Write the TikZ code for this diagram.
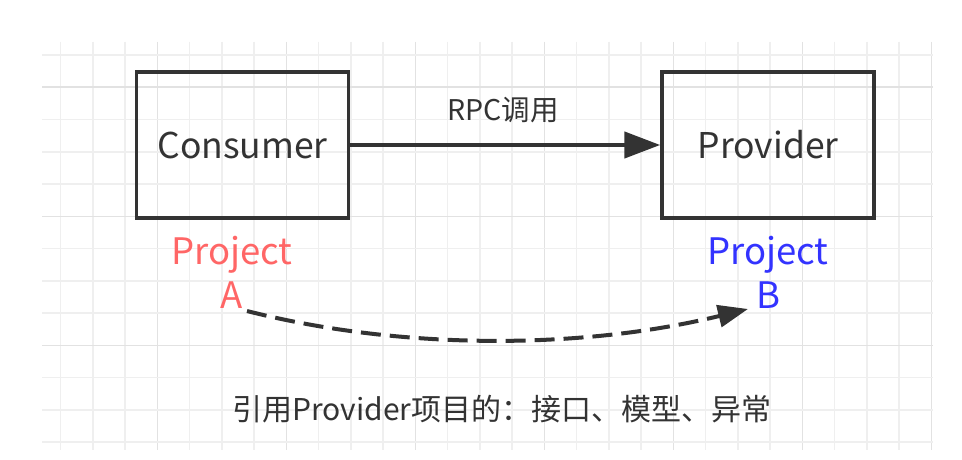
\documentclass[tikz,border=0pt]{standalone}
\usepackage{fontspec}
\setmainfont{Noto Sans CJK SC}
\usetikzlibrary{arrows.meta}
\definecolor{ink}{HTML}{333333}
\definecolor{gridlight}{HTML}{EFEFEF}
\definecolor{griddark}{HTML}{E2E2E2}
\definecolor{projred}{HTML}{FF6666}
\definecolor{projblue}{HTML}{3333FF}
\tikzset{
  box/.style={draw=ink, line width=3.5pt, minimum width=212pt, minimum height=146pt,
    inner sep=0pt, text=ink, font=\fontsize{35.5}{40}\selectfont},
  lbl/.style={text=ink, inner sep=0pt, font=\fontsize{28.5}{32}\selectfont},
  notestyle/.style={text=ink, inner sep=0pt, font=\fontsize{30}{34}\selectfont},
  proj/.style={align=center, inner sep=0pt, font=\fontsize{36.5}{44}\selectfont},
  gl/.style={draw=gridlight, line width=1.5pt},
  gd/.style={draw=griddark, line width=1.5pt}
}
\begin{document}
\begin{tikzpicture}[x=1pt,y=-1pt]
\useasboundingbox (0,0) rectangle (962,460);
\fill[white] (0,0) rectangle (962,460);
\begin{scope}
  \clip (42,42) rectangle (933,450);
  \foreach \i in {0,...,27}{
    \pgfmathtruncatemacro{\m}{mod(\i,4)}
    \ifnum\m=3 \draw[gd] ({60.7+32.25*\i},42) -- ++(0,408);
    \else \draw[gl] ({60.7+32.25*\i},42) -- ++(0,408); \fi
  }
  \foreach \j in {0,...,12}{
    \pgfmathtruncatemacro{\m}{mod(\j,4)}
    \ifnum\m=1 \draw[gd] (42,{55+32.25*\j}) -- ++(891,0);
    \else \draw[gl] (42,{55+32.25*\j}) -- ++(891,0); \fi
  }
\end{scope}

\node[box] (cons) at (242.5,145) {Consumer};
\node[box] (prov) at (768,145) {Provider};
\draw[ink, line width=4.5pt, -{Triangle[length=36pt,width=26pt]}] (cons) -- (prov);
\node[lbl] (rpc) at (503,110) {RPC调用};

\node[proj, text=projred] (pa) at (232,272) {Project\\A};
\node[proj, text=projblue] (pb) at (768,272) {Project\\B};

\coordinate (ds) at (247,311);
\coordinate (de) at (748,309);
\draw[ink, line width=4pt, dash pattern=on 20pt off 9pt, -{Triangle[length=30pt,width=22pt]}]
  (ds) .. controls (400,350) and (580,350) .. (de);

\node[notestyle] (note) at (502,409) {引用Provider项目的：接口、模型、异常};
\end{tikzpicture}
\end{document}
